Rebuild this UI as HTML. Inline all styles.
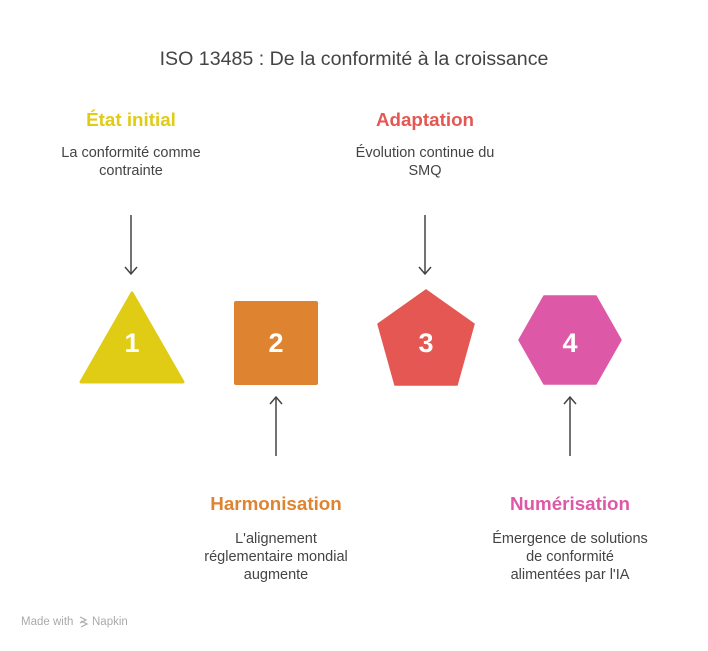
<!DOCTYPE html>
<html><head><meta charset="utf-8"><style>
body{margin:0;background:#fff;}
svg text{font-family:"Liberation Sans",sans-serif;}
</style></head><body>
<svg width="708" height="646" viewBox="0 0 708 646" xmlns="http://www.w3.org/2000/svg">
<text x="354" y="65" text-anchor="middle" font-size="19.6" fill="#444">ISO 13485 : De la conformité à la croissance</text>

<text x="131" y="126" text-anchor="middle" font-size="18.8" font-weight="bold" fill="#E0CB15">État initial</text>
<text x="131" y="157" text-anchor="middle" font-size="14.5" fill="#444">La conformité comme</text>
<text x="131" y="175" text-anchor="middle" font-size="14.5" fill="#444">contrainte</text>

<text x="425" y="126" text-anchor="middle" font-size="18.8" font-weight="bold" fill="#E55753">Adaptation</text>
<text x="425" y="157" text-anchor="middle" font-size="14.5" fill="#444">Évolution continue du</text>
<text x="425" y="175" text-anchor="middle" font-size="14.5" fill="#444">SMQ</text>

<text x="276" y="510" text-anchor="middle" font-size="18.8" font-weight="bold" fill="#DE8431">Harmonisation</text>
<text x="276" y="543" text-anchor="middle" font-size="14.5" fill="#444">L'alignement</text>
<text x="276" y="561" text-anchor="middle" font-size="14.5" fill="#444">réglementaire mondial</text>
<text x="276" y="579" text-anchor="middle" font-size="14.5" fill="#444">augmente</text>

<text x="570" y="510" text-anchor="middle" font-size="18.8" font-weight="bold" fill="#DD59A8">Numérisation</text>
<text x="570" y="543" text-anchor="middle" font-size="14.5" fill="#444">Émergence de solutions</text>
<text x="570" y="561" text-anchor="middle" font-size="14.5" fill="#444">de conformité</text>
<text x="570" y="579" text-anchor="middle" font-size="14.5" fill="#444">alimentées par l'IA</text>

<g stroke="#444" stroke-width="1.5" fill="none">
<line x1="131" y1="215" x2="131" y2="274"/><polyline points="125,267 131,274 137,267"/>
<line x1="425" y1="215" x2="425" y2="274"/><polyline points="419,267 425,274 431,267"/>
<line x1="276" y1="456" x2="276" y2="397"/><polyline points="270,404 276,397 282,404"/>
<line x1="570" y1="456" x2="570" y2="397"/><polyline points="564,404 570,397 576,404"/>
</g>

<path d="M132,293 L183,382 L81,382 Z" fill="#E0CB15" stroke="#E0CB15" stroke-width="3" stroke-linejoin="round"/>
<rect x="234" y="301" width="84" height="84" rx="2" fill="#DE8431"/>
<path d="M426,290 L474,324 L457,385 L395,385 L378,324 Z" fill="#E55753" stroke="#E55753" stroke-width="1.5" stroke-linejoin="round"/>
<path d="M544,296 L596,296 L621,340 L596,384 L544,384 L519,340 Z" fill="#DD59A8" stroke="#DD59A8" stroke-width="1.5" stroke-linejoin="round"/>

<g font-size="27" font-weight="bold" fill="#fff" text-anchor="middle">
<text x="132" y="352">1</text>
<text x="276" y="352">2</text>
<text x="426" y="352">3</text>
<text x="570" y="352">4</text>
</g>

<text x="21" y="625" font-size="11.5" fill="#aaa">Made with</text>
<path d="M80,617 l6,3 -6,3 M81,621 l6,3 -6,3" stroke="#aaa" stroke-width="1.2" fill="none"/>
<text x="92" y="625" font-size="11.5" fill="#aaa">Napkin</text>
</svg>
</body></html>
